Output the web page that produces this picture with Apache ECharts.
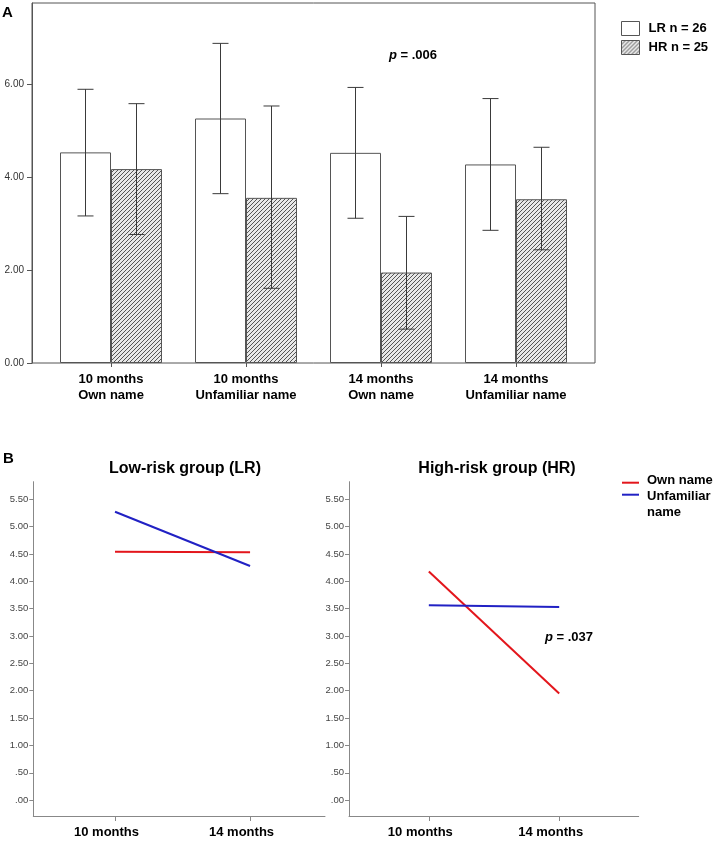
<!DOCTYPE html>
<html>
<head>
<meta charset="utf-8">
<script src="https://cdn.jsdelivr.net/npm/echarts@6/dist/echarts.min.js"></script>
<style>
  html, body { margin: 0; padding: 0; background: #fff; }
  #main { width: 716px; height: 841px; }
</style>
</head>
<body>
<div id="main"></div>
<script>
// panel A: bars with error bars
const catsA = ['10 months\nOwn name', '10 months\nUnfamiliar name', '14 months\nOwn name', '14 months\nUnfamiliar name'];
const lrMean = [4.54, 5.27, 4.53, 4.28];
const lrLo = [3.17, 3.65, 3.12, 2.86];
const lrHi = [5.90, 6.89, 5.94, 5.70];
const hrMean = [4.18, 3.56, 1.95, 3.53];
const hrLo = [2.77, 1.61, 0.73, 2.44];
const hrHi = [5.59, 5.54, 3.16, 4.65];
const yTicksA = [0, 2, 4, 6];

// panel B: interaction lines
const monthsB = [10, 14];
const lrOwn = [4.54, 4.53];
const lrUnf = [5.27, 4.28];
const hrOwn = [4.18, 1.95];
const hrUnf = [3.56, 3.53];
const yTicksB = [0, 0.5, 1, 1.5, 2, 2.5, 3, 3.5, 4, 4.5, 5, 5.5];

const FONT = '"Liberation Sans", Arial, sans-serif';
const BAR_W = 51;

// diagonal hatch for HR bars
function makeHatch() {
  const c = document.createElement('canvas');
  c.width = 4; c.height = 4;
  const ctx = c.getContext('2d');
  ctx.fillStyle = '#e8e8e8';
  ctx.fillRect(0, 0, 4, 4);
  ctx.strokeStyle = '#555';
  ctx.lineWidth = 1;
  ctx.beginPath();
  ctx.moveTo(0, 4); ctx.lineTo(4, 0);
  ctx.moveTo(-1, 1); ctx.lineTo(1, -1);
  ctx.moveTo(3, 5); ctx.lineTo(5, 3);
  ctx.stroke();
  return c;
}
const hatch = { image: makeHatch(), repeat: 'repeat' };

function errorBar(sign) {
  return function (params, api) {
    const i = api.value(0);
    const lo = api.coord([i, api.value(1)]);
    const hi = api.coord([i, api.value(2)]);
    const x = lo[0] + sign * BAR_W / 2;
    const style = { stroke: '#3a3a3a', lineWidth: 1 };
    return {
      type: 'group',
      children: [
        { type: 'line', shape: { x1: x, y1: lo[1], x2: x, y2: hi[1] }, style },
        { type: 'line', shape: { x1: x - 8, y1: hi[1], x2: x + 8, y2: hi[1] }, style },
        { type: 'line', shape: { x1: x - 8, y1: lo[1], x2: x + 8, y2: lo[1] }, style }
      ]
    };
  };
}

const fmtB = v => v.toFixed(2).replace(/^0/, '');

function lineAxesB(gridIndex, min, max) {
  return {
    x: {
      type: 'value', gridIndex, min, max,
      axisLine: { onZero: false, lineStyle: { color: '#888' } },
      axisTick: { customValues: monthsB, length: 5, lineStyle: { color: '#888' } },
      axisLabel: {
        customValues: monthsB, formatter: v => v + ' months',
        color: '#000', fontWeight: 'bold', fontSize: 13, fontFamily: FONT,
        margin: 10, padding: [0, 17, 0, 0]
      },
      splitLine: { show: false }
    },
    y: {
      type: 'value', gridIndex, min: -0.29, max: 5.82,
      axisLine: { show: true, onZero: false, lineStyle: { color: '#888' } },
      axisTick: { show: true, customValues: yTicksB, length: 4, lineStyle: { color: '#888' } },
      axisLabel: { customValues: yTicksB, formatter: fmtB, color: '#444', fontSize: 9.5, fontFamily: FONT, margin: 5 },
      splitLine: { show: false }
    }
  };
}
const axL = lineAxesB(2, 7.58, 16.22);
const axR = lineAxesB(3, 7.55, 16.44);

const chart = echarts.init(document.getElementById('main'), null, { renderer: 'canvas' });

const option = {
  animation: false,
  textStyle: { fontFamily: FONT },
  grid: [
    { left: 32, right: 121, top: 3, bottom: 478, show: true, borderColor: '#555', borderWidth: 1 },
    { left: 43.5, right: 132.5, top: 3, bottom: 478 },
    { left: 33.3, right: 391, top: 481.7, bottom: 25 },
    { left: 349, right: 77.3, top: 481.7, bottom: 25 }
  ],
  xAxis: [
    { type: 'value', gridIndex: 0, show: false },
    {
      type: 'category', gridIndex: 1, data: catsA,
      axisLine: { show: false },
      axisTick: { show: true, alignWithLabel: true, length: 4, lineStyle: { color: '#555' } },
      axisLabel: { color: '#000', fontWeight: 'bold', fontSize: 13, lineHeight: 16, margin: 8, fontFamily: FONT, interval: 0 }
    },
    axL.x, axR.x
  ],
  yAxis: [
    {
      type: 'value', gridIndex: 0, min: 0, max: 7.76,
      axisLine: { show: true, lineStyle: { color: '#555' } },
      axisTick: { show: true, customValues: yTicksA, length: 5, lineStyle: { color: '#555' } },
      axisLabel: { customValues: yTicksA, formatter: v => v.toFixed(2), color: '#333', fontSize: 10, fontFamily: FONT, margin: 8 },
      splitLine: { show: false }
    },
    { type: 'value', gridIndex: 1, min: 0, max: 7.76, show: false },
    axL.y, axR.y
  ],
  legend: {
    orient: 'vertical', left: 621, top: 21,
    data: ['LR n = 26', 'HR n = 25'],
    icon: 'rect', itemWidth: 18, itemHeight: 14, itemGap: 4, padding: 0,
    itemStyle: { borderColor: '#555', borderWidth: 1 },
    textStyle: { color: '#000', fontWeight: 'bold', fontSize: 13, fontFamily: FONT, padding: [0, 0, 0, 4] }
  },
  series: [
    {
      name: 'LR n = 26', type: 'bar', xAxisIndex: 1, yAxisIndex: 1,
      data: lrMean, barWidth: BAR_W, barGap: '0%',
      itemStyle: { color: '#fff', borderColor: '#555', borderWidth: 1 }
    },
    {
      name: 'HR n = 25', type: 'bar', xAxisIndex: 1, yAxisIndex: 1,
      data: hrMean, barWidth: BAR_W, barGap: '0%',
      itemStyle: { color: hatch, borderColor: '#555', borderWidth: 1 }
    },
    {
      type: 'custom', xAxisIndex: 1, yAxisIndex: 1, z: 10,
      renderItem: errorBar(-1), encode: { x: 0, y: [1, 2] },
      data: lrLo.map((v, i) => [i, v, lrHi[i]])
    },
    {
      type: 'custom', xAxisIndex: 1, yAxisIndex: 1, z: 10,
      renderItem: errorBar(1), encode: { x: 0, y: [1, 2] },
      data: hrLo.map((v, i) => [i, v, hrHi[i]])
    },
    {
      name: 'Own name', type: 'line', xAxisIndex: 2, yAxisIndex: 2, symbol: 'none',
      lineStyle: { color: '#e3161c', width: 2 },
      data: monthsB.map((m, i) => [m, lrOwn[i]])
    },
    {
      name: 'Unfamiliar name', type: 'line', xAxisIndex: 2, yAxisIndex: 2, symbol: 'none',
      lineStyle: { color: '#2121c4', width: 2 },
      data: monthsB.map((m, i) => [m, lrUnf[i]])
    },
    {
      name: 'Own name', type: 'line', xAxisIndex: 3, yAxisIndex: 3, symbol: 'none',
      lineStyle: { color: '#e3161c', width: 2 },
      data: monthsB.map((m, i) => [m, hrOwn[i]])
    },
    {
      name: 'Unfamiliar name', type: 'line', xAxisIndex: 3, yAxisIndex: 3, symbol: 'none',
      lineStyle: { color: '#2121c4', width: 2 },
      data: monthsB.map((m, i) => [m, hrUnf[i]])
    }
  ],
  graphic: [
    { type: 'text', left: 2, top: 5, style: { text: 'A', font: 'bold 15px ' + FONT, fill: '#000' } },
    { type: 'text', left: 3, top: 451, style: { text: 'B', font: 'bold 15px ' + FONT, fill: '#000' } },
    {
      type: 'text', left: 389, top: 49,
      style: {
        text: '{i|p}{b| = .006}',
        rich: {
          i: { fontStyle: 'italic', fontWeight: 'bold', fontSize: 13, fontFamily: FONT, fill: '#000' },
          b: { fontWeight: 'bold', fontSize: 13, fontFamily: FONT, fill: '#000' }
        }
      }
    },
    {
      type: 'text', left: 545, top: 631,
      style: {
        text: '{i|p}{b| = .037}',
        rich: {
          i: { fontStyle: 'italic', fontWeight: 'bold', fontSize: 13, fontFamily: FONT, fill: '#000' },
          b: { fontWeight: 'bold', fontSize: 13, fontFamily: FONT, fill: '#000' }
        }
      }
    },
    { type: 'text', x: 185, y: 469, style: { text: 'Low-risk group (LR)', font: 'bold 16px ' + FONT, fill: '#000', textAlign: 'center', textVerticalAlign: 'middle' } },
    { type: 'text', x: 497, y: 469, style: { text: 'High-risk group (HR)', font: 'bold 16px ' + FONT, fill: '#000', textAlign: 'center', textVerticalAlign: 'middle' } },
    // legend for panel B
    { type: 'line', shape: { x1: 622, y1: 482.7, x2: 639, y2: 482.7 }, style: { stroke: '#e3161c', lineWidth: 2 } },
    { type: 'line', shape: { x1: 622, y1: 494.7, x2: 639, y2: 494.7 }, style: { stroke: '#2121c4', lineWidth: 2 } },
    { type: 'text', x: 647, y: 480, style: { text: 'Own name', font: 'bold 13px ' + FONT, fill: '#000', textVerticalAlign: 'middle' } },
    { type: 'text', left: 647, top: 488, style: { text: 'Unfamiliar\nname', font: 'bold 13px ' + FONT, fill: '#000', lineHeight: 16 } }
  ]
};

chart.setOption(option);
</script>
</body>
</html>
